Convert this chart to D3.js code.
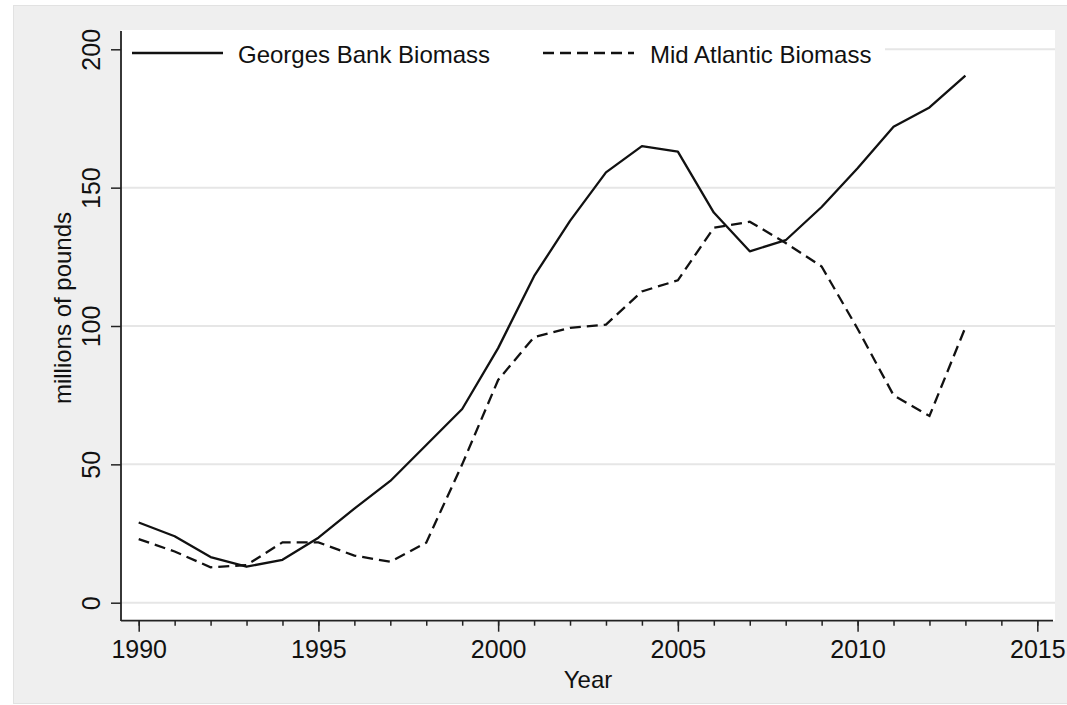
<!DOCTYPE html>
<html>
<head>
<meta charset="utf-8">
<script src="https://cdn.jsdelivr.net/npm/d3@7"></script>
<style>
  html, body { margin: 0; padding: 0; background: #fff; }
  svg { display: block; font-family: "Liberation Sans", Arial, sans-serif; }
</style>
</head>
<body>
<div id="chart"></div>
<script>
// data
const years = d3.range(1990, 2014);
const georgesBank = [29, 24, 16.5, 13, 15.5, 23.5, 34, 44, 57, 70, 92, 118, 138, 155.5, 165, 163, 141, 127, 131, 143, 157, 172, 179, 190.5];
const midAtlantic = [23, 18.5, 12.8, 13.6, 21.8, 21.8, 17, 14.8, 21.7, 50, 80.5, 96, 99.3, 100.5, 112.5, 116.5, 135.5, 137.7, 130, 121.5, 99, 75, 67.5, 99.5];
const yTicks = [0, 50, 100, 150, 200];
const xTicks = [1990, 1995, 2000, 2005, 2010, 2015];
const seriesNames = ["Georges Bank Biomass", "Mid Atlantic Biomass"];

const width = 1067;
const height = 705;

// plot area (white) and axis positions
const plotLeft = 121, plotRight = 1055, plotTop = 30, plotBottom = 621;

const svg = d3.select("#chart")
    .append("svg")
    .attr("width", width)
    .attr("height", height);

// outer gray graph region
svg.append("rect")
    .attr("x", 13.5).attr("y", 5.5)
    .attr("width", width - 13).attr("height", 698)
    .attr("fill", "#efefef")
    .attr("stroke", "#e2e2e2");

svg.append("rect")
    .attr("x", plotLeft).attr("y", plotTop)
    .attr("width", plotRight - plotLeft).attr("height", plotBottom - plotTop)
    .attr("fill", "#fff");

const x = d3.scaleLinear().domain([1990, 2015]).range([138.7, 1037.3]);
const y = d3.scaleLinear().domain([0, 200]).range([602.7, 49.3]);

// gridlines
svg.append("g")
    .selectAll("line")
    .data(yTicks)
    .join("line")
    .attr("x1", plotLeft).attr("x2", plotRight)
    .attr("y1", d => y(d)).attr("y2", d => y(d))
    .attr("stroke", "#e6e6e6")
    .attr("stroke-width", 2);

// legend box (white, hides the top gridline)
svg.append("rect")
    .attr("x", plotLeft + 1).attr("y", plotTop)
    .attr("width", 885 - plotLeft - 1).attr("height", 40)
    .attr("fill", "#fff");

// y axis
const yAxis = svg.append("g")
    .attr("transform", `translate(${plotLeft},0)`)
    .call(d3.axisLeft(y).tickValues(yTicks).tickSize(10).tickSizeOuter(0).tickPadding(11));
yAxis.select(".domain").remove();
yAxis.selectAll(".tick line").attr("stroke", "#222").attr("stroke-width", 1.5);
yAxis.selectAll(".tick text")
    .attr("transform", "rotate(-90)")
    .attr("x", 0).attr("y", -21).attr("dy", 0)
    .attr("text-anchor", "middle")
    .attr("font-size", 25)
    .attr("fill", "#111");

svg.append("line")
    .attr("x1", plotLeft).attr("x2", plotLeft)
    .attr("y1", plotTop + 1).attr("y2", plotBottom)
    .attr("stroke", "#222").attr("stroke-width", 1.8);

// x axis: minor then major ticks
const xAxisY = 620.7;
const xMinor = svg.append("g")
    .attr("transform", `translate(0,${xAxisY})`)
    .call(d3.axisBottom(x).tickValues(d3.range(1990, 2016)).tickSize(5).tickSizeOuter(0).tickFormat(""));
xMinor.select(".domain").remove();
xMinor.selectAll(".tick line").attr("stroke", "#222").attr("stroke-width", 1.5);

const xAxis = svg.append("g")
    .attr("transform", `translate(0,${xAxisY})`)
    .call(d3.axisBottom(x).tickValues(xTicks).tickSize(11).tickSizeOuter(0).tickPadding(8.5).tickFormat(d3.format("d")));
xAxis.select(".domain").remove();
xAxis.selectAll(".tick line").attr("stroke", "#222").attr("stroke-width", 1.5);
xAxis.selectAll(".tick text")
    .attr("font-size", 25)
    .attr("fill", "#111");

svg.append("line")
    .attr("x1", plotLeft).attr("x2", plotRight - 2)
    .attr("y1", xAxisY).attr("y2", xAxisY)
    .attr("stroke", "#222").attr("stroke-width", 1.8);

// axis titles
svg.append("text")
    .attr("transform", "translate(71,308) rotate(-90)")
    .attr("text-anchor", "middle")
    .attr("font-size", 24)
    .attr("fill", "#111")
    .text("millions of pounds");

svg.append("text")
    .attr("x", (plotLeft + plotRight) / 2)
    .attr("y", 688)
    .attr("text-anchor", "middle")
    .attr("font-size", 24)
    .attr("fill", "#111")
    .text("Year");

// lines
const line = d3.line()
    .x((d, i) => x(years[i]))
    .y(d => y(d));

svg.append("path")
    .datum(georgesBank)
    .attr("d", line)
    .attr("fill", "none")
    .attr("stroke", "#111")
    .attr("stroke-width", 2.3)
    .attr("stroke-linejoin", "round");

svg.append("path")
    .datum(midAtlantic)
    .attr("d", line)
    .attr("fill", "none")
    .attr("stroke", "#111")
    .attr("stroke-width", 2.3)
    .attr("stroke-dasharray", "11,6");

// legend
const legend = svg.append("g");
legend.append("line")
    .attr("x1", 132).attr("x2", 223).attr("y1", 53).attr("y2", 53)
    .attr("stroke", "#111").attr("stroke-width", 2.3);
legend.append("text")
    .attr("x", 238).attr("y", 62.5)
    .attr("font-size", 24).attr("fill", "#111")
    .text(seriesNames[0]);
legend.append("line")
    .attr("x1", 543).attr("x2", 634).attr("y1", 53).attr("y2", 53)
    .attr("stroke", "#111").attr("stroke-width", 2.3)
    .attr("stroke-dasharray", "11,6");
legend.append("text")
    .attr("x", 650).attr("y", 62.5)
    .attr("font-size", 24).attr("fill", "#111")
    .text(seriesNames[1]);
</script>
</body>
</html>
